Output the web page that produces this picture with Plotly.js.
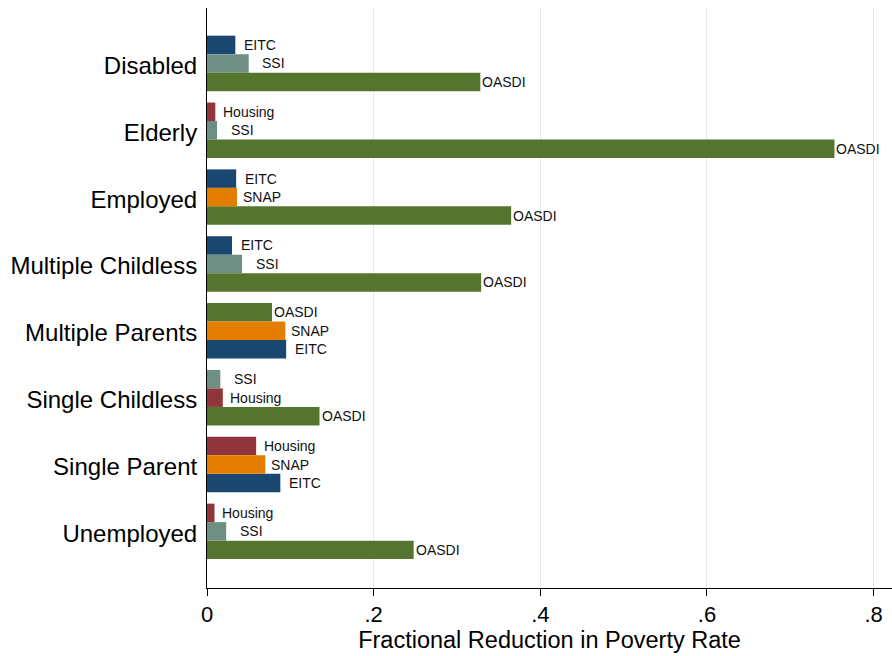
<!DOCTYPE html>
<html>
<head>
<meta charset="utf-8">
<script src="https://cdn.plot.ly/plotly-3.0.1.min.js"></script>
<style>
  html, body { margin: 0; padding: 0; background: #fff; }
  #chart { width: 892px; height: 656px; }
</style>
</head>
<body>
<div id="chart"></div>
<script>
// ---- Data ----
const categories = ['Disabled', 'Elderly', 'Employed', 'Multiple Childless',
                    'Multiple Parents', 'Single Childless', 'Single Parent', 'Unemployed'];
const programs = ['EITC', 'SSI', 'OASDI', 'Housing', 'SNAP'];
const EITC    = [0.034, null,  0.035, 0.030, 0.095, null,  0.088, null ];
const SSI     = [0.050, 0.012, null,  0.042, null,  0.016, null,  0.023];
const OASDI   = [0.328, 0.753, 0.365, 0.329, 0.078, 0.135, null,  0.248];
const Housing = [null,  0.010, null,  null,  null,  0.019, 0.059, 0.009];
const SNAP    = [null,  null,  0.036, null,  0.094, null,  0.070, null ];
const xTickVals = [0, 0.2, 0.4, 0.6, 0.8];
const xTickText = ['0', '.2', '.4', '.6', '.8'];
const xTitle = 'Fractional Reduction in Poverty Rate';

// ---- Styles ----
const seriesValues = { EITC, SSI, OASDI, Housing, SNAP };
const colors = { EITC: '#1a476f', SSI: '#6e8e84', OASDI: '#55752f', Housing: '#90353b', SNAP: '#e37e00' };
const labelShift = { EITC: 25, SSI: 25, OASDI: 24, Housing: 33, SNAP: 25 };
const barW = 0.2767;
const FONT = 'Liberation Sans, Arial, Helvetica, sans-serif';

// slot within each category: bars sorted ascending by value, top to bottom
const slot = {};
programs.forEach(p => slot[p] = []);
categories.forEach((c, i) => {
  const present = programs.filter(p => seriesValues[p][i] !== null)
                          .sort((a, b) => seriesValues[a][i] - seriesValues[b][i]);
  present.forEach((p, k) => { slot[p][i] = k; });
});

const traces = [];
const annotations = [];
programs.forEach(p => {
  const xs = [], ys = [];
  categories.forEach((c, i) => {
    const v = seriesValues[p][i];
    if (v === null) return;
    const y = i + (slot[p][i] - 1) * barW;
    xs.push(v); ys.push(y);
    annotations.push({
      x: v, y: y, xref: 'x', yref: 'y', text: p, showarrow: false,
      xanchor: 'center', yanchor: 'middle', xshift: labelShift[p], yshift: 0,
      font: { family: FONT, size: 14, color: '#111' }
    });
  });
  traces.push({
    type: 'bar', orientation: 'h', name: p, x: xs, y: ys, width: barW,
    marker: { color: colors[p], line: { width: 0 } },
    hoverinfo: 'x+name'
  });
});

const layout = {
  width: 892, height: 656,
  margin: { l: 207, r: 0, t: 8, b: 68 },
  paper_bgcolor: '#ffffff', plot_bgcolor: '#ffffff',
  showlegend: false,
  barmode: 'overlay',
  font: { family: FONT, color: '#000' },
  xaxis: {
    range: [0, 685 / 833.3],
    tickvals: xTickVals, ticktext: xTickText,
    ticks: 'outside', ticklen: 7, tickwidth: 1, tickcolor: '#000',
    tickfont: { family: FONT, size: 22, color: '#000' },
    showline: true, linecolor: '#000', linewidth: 1,
    showgrid: true, gridcolor: '#e8e8e8', gridwidth: 1,
    zeroline: false,
    title: { text: xTitle, font: { family: FONT, size: 23.5, color: '#000' }, standoff: 2 }
  },
  yaxis: {
    range: [7.847, -0.829],
    tickvals: categories.map((c, i) => i), ticktext: categories,
    ticks: 'outside', ticklen: 4, tickcolor: 'rgba(0,0,0,0)',
    ticklabelshift: -2,
    tickfont: { family: FONT, size: 24, color: '#000' },
    showline: true, linecolor: '#000', linewidth: 1,
    showgrid: false, zeroline: false
  },
  annotations: annotations
};

Plotly.newPlot('chart', traces, layout, { staticPlot: true, displayModeBar: false });
</script>
</body>
</html>
